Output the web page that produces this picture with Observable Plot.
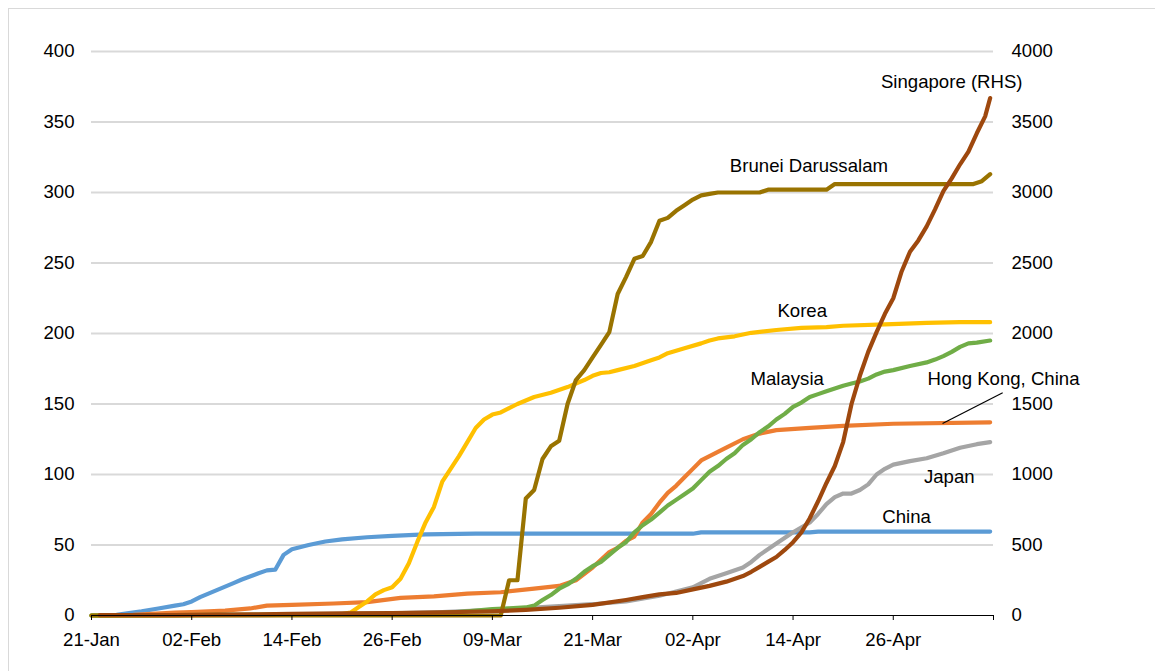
<!DOCTYPE html>
<html><head><meta charset="utf-8">
<script src="https://cdn.jsdelivr.net/npm/d3@7"></script>
<script src="https://cdn.jsdelivr.net/npm/@observablehq/plot@0.6"></script>
<style>
html,body{margin:0;padding:0;background:#fff;overflow:hidden;}
#wrap{position:relative;width:1155px;height:671px;}
#frame{position:absolute;left:8px;top:8px;width:1170px;height:690px;border:1.5px solid #d9d9d9;box-sizing:border-box;pointer-events:none;}
#chart{position:absolute;left:0;top:0;}
</style></head><body><div id="wrap"><div id="chart"></div><div id="frame"></div></div>
<script>
// Days are counted from the start date (21-Jan-2020); values are cases per million.
const startDate = "2020-01-21";
const endDay = 108; // 08-May
const xTickDays = [0, 12, 24, 36, 48, 60, 72, 84, 96, 108];
const yTicks = [0, 50, 100, 150, 200, 250, 300, 350, 400];
const countries = ["China", "Hong Kong, China", "Japan", "Korea", "Malaysia", "Brunei Darussalam", "Singapore (RHS)"];
const colors = ["#5B9BD5", "#ED7D31", "#A5A5A5", "#FFC000", "#70AD47", "#997300", "#9E480E"];

const china = [[0,0],[3,0.5],[6,3],[8,5],[10,7],[11,8],[12,10],[13,13],[15,18],[17,23],[18,25.5],[20,30],[21,32],[22,32.5],[23,43],[24,47],[26,50],[28,52.5],[30,54],[33,55.5],[36,56.5],[40,57.5],[46,58],[72,58],[73,59],[86,59],[87,59.5],[107.6,59.5]];
const hongKong = [[1,0],[5,0.5],[10,2],[12,2.5],[16,3.5],[19,5],[21,7],[24,7.5],[29,8.5],[33,9.5],[37,12.5],[41,13.5],[45,15.5],[49,16.5],[53,19],[56,21],[58,25],[60,34],[62,45],[63,48],[64,53],[65,56],[66,66],[67,72],[68,80],[69,87],[70,92],[71,98],[72,104],[73,110],[74,113],[76,119],[78,125],[80,129],[82,131.5],[86,133],[90,134.5],[96,136],[107.6,137]];
const japan = [[0,0],[10,0.1],[20,0.2],[30,1],[36,1.5],[42,2.5],[48,4],[54,6],[60,8],[64,10],[68,14],[70,17],[72,20],[74,26],[76,30],[78,34],[79,38],[80,43],[82,51],[84,59],[86,66],[87,72],[88,79],[89,84],[90,86.5],[91,86.5],[92,89],[93,93],[94,100],[95,104],[96,107],[98,109.5],[100,111.5],[102,115],[104,119],[106,121.5],[107.6,123]];
const korea = [[0,0],[28,0.5],[30,1],[31,2],[32,6],[33,10],[34,15],[35,18],[36,20],[37,26],[38,37],[39,52],[40,66],[41,77],[42,95],[43,104],[44,113],[45,123],[46,133],[47,139],[48,142.5],[49,144],[50,147],[51,150],[53,155],[55,158],[57,162],[59,167],[60,170],[61,172],[62,172.5],[63,174],[65,177],[67,181],[68,183],[69,186],[71,189.5],[73,193],[74,195],[75,196.5],[77,198],[79,200.5],[82,202.5],[85,204],[88,204.5],[90,205.5],[95,206.5],[100,207.5],[104,208],[107.6,208]];
const malaysia = [[0,0],[20,0.7],[40,1],[45,3],[48,4.5],[50,5],[52,5.7],[53,7],[54,11],[55,14.5],[56,19],[57,22],[58,26],[59,31],[60,35],[61,38],[62,43],[63,48],[64,52],[65,59],[66,64],[67,68],[68,73],[69,78],[70,82],[71,86],[72,90],[73,96],[74,102],[75,106],[76,111],[77,115],[78,121],[79,125],[80,130],[81,134],[82,139],[83,143],[84,148],[85,151],[86,155],[87,157],[88,159],[89,161],[90,163],[91,164.5],[92,166],[93,168],[94,171],[95,173],[96,174],[98,177],[100,179.5],[101,181.5],[102,184],[103,187],[104,190.5],[105,193],[106,193.5],[107.6,195]];
const brunei = [[0,0],[49,0],[50,25],[51,25],[52,83],[53,89],[54,111],[55,120],[56,124],[57,150],[58,167],[59,174],[60,183],[61,192],[62,201],[63,228],[64,240],[65,253],[66,255],[67,265],[68,280],[69,282],[70,287],[71,291],[72,295],[73,298],[74,299],[75,300],[80,300],[81,302],[88,302],[89,306],[105.6,306],[106.6,308],[107.6,313]];
const singaporeRHS = [[1,2],[10,3],[15,6],[20,8],[24,12],[30,15],[36,17],[40,20],[44,25],[48,30],[52,40],[56,55],[60,75],[64,110],[66,130],[68,150],[70,160],[72,185],[74,210],[76,240],[78,280],[79,310],[80,345],[81,380],[82,415],[83,465],[84,520],[85,590],[86,690],[87,810],[88,940],[89,1060],[90,1230],[91,1500],[92,1700],[93,1870],[94,2010],[95,2140],[96,2250],[97,2440],[98,2580],[99,2660],[100,2760],[101,2880],[102,3010],[103,3100],[104,3200],[105,3290],[106,3420],[107,3540],[107.6,3670]];

// Annotation positions (day, left-axis value)
const labelDays = [97.6, 109.2, 102.7, 85.1, 83.3, 85.9, 103];
const labelValues = [69.5, 167.4, 97.9, 215.6, 167.4, 319, 378];
const leader = {day1: 109.1, value1: 158, day2: 101.9, value2: 136.2};

const t0 = new Date(startDate + "T00:00:00Z");
const dayToDate = d => new Date(t0.getTime() + d * 864e5);
const seriesList = [china, hongKong, japan, korea, malaysia, brunei, singaporeRHS];
const rows = [];
seriesList.forEach((s, i) => {
  const scaleFactor = i === 6 ? 10 : 1; // Singapore is read on the right-hand axis
  s.forEach(([d, v]) => rows.push({country: countries[i], date: dayToDate(d), value: v / scaleFactor}));
});
const labels = countries.map((c, i) => ({text: c, date: dayToDate(labelDays[i]), value: labelValues[i]}));
const xTicks = xTickDays.map(dayToDate);
const fmt = d3.utcFormat("%d-%b");
const FS = 18.6;

const chart = Plot.plot({
  width: 1155,
  height: 671,
  marginLeft: 91,
  marginRight: 162,
  marginTop: 51,
  marginBottom: 56,
  style: {fontFamily: "'Liberation Sans', Arial, sans-serif", fontSize: FS + "px", color: "#000", background: "transparent"},
  x: {type: "utc", domain: [t0, dayToDate(endDay)]},
  y: {domain: [0, 400]},
  color: {domain: countries, range: colors},
  marks: [
    Plot.gridY(yTicks.filter(v => v > 0), {stroke: "#d9d9d9", strokeOpacity: 1, strokeWidth: 2}),
    Plot.axisY(yTicks, {anchor: "left", tickSize: 0, tickPadding: 17, label: null, fontSize: FS}),
    Plot.axisY(yTicks, {anchor: "right", tickSize: 0, tickPadding: 18, label: null, fontSize: FS, tickFormat: d => String(d * 10)}),
    Plot.line(rows, {x: "date", y: "value", z: "country", stroke: "country", strokeWidth: 4.2, strokeLinejoin: "round", strokeLinecap: "round"}),
    Plot.ruleY([0], {stroke: "#000", strokeWidth: 1.2}),
    Plot.axisX(xTicks, {anchor: "bottom", tickSize: 5, tickPadding: 12, label: null, fontSize: FS, tickFormat: (d, i) => (i === xTicks.length - 1 ? "" : fmt(d))}),
    Plot.text(labels, {x: "date", y: "value", text: "text", fontSize: FS, fill: "#000"}),
    Plot.link([leader], {x1: d => dayToDate(d.day1), y1: "value1", x2: d => dayToDate(d.day2), y2: "value2", stroke: "#000", strokeWidth: 1.2})
  ]
});
document.getElementById("chart").appendChild(chart);
</script>
</body></html>
